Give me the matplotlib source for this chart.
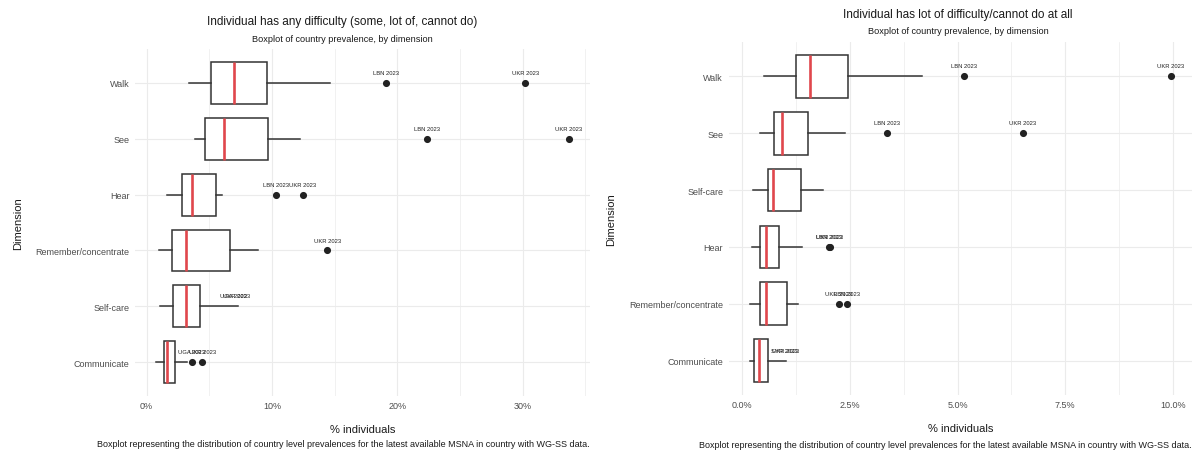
import numpy as np
import matplotlib
matplotlib.use("Agg")
import matplotlib.pyplot as plt
from matplotlib.ticker import FuncFormatter, MultipleLocator

plt.rcParams['font.family'] = ['Liberation Sans', 'DejaVu Sans']

CAPTION = ("Boxplot representing the distribution of country level prevalences "
           "for the latest available MSNA in country with WG-SS data.")
SUBTITLE = "Boxplot of country prevalence, by dimension"

# --- any difficulty (some, lot of, cannot do), top to bottom ---
any_dims = ["Walk", "See", "Hear", "Remember/concentrate", "Self-care", "Communicate"]
any_whislo = [3.4, 3.85, 1.65, 1.0, 1.05, 0.75]
any_q1 = [5.1, 4.65, 2.8, 2.05, 2.1, 1.4]
any_med = [6.95, 6.2, 3.65, 3.15, 3.15, 1.65]
any_q3 = [9.6, 9.7, 5.5, 6.65, 4.25, 2.3]
any_whishi = [14.6, 12.25, 6.0, 8.85, 7.3, 3.25]
any_labelled = [
    [("LBN 2023", 19.1), ("UKR 2023", 30.2)],
    [("LBN 2023", 22.4), ("UKR 2023", 33.7)],
    [("LBN 2023", 10.3), ("UKR 2023", 12.45)],
    [("UKR 2023", 14.4)],
    [("UGA 2023", 6.95), ("UKR 2023", 7.2)],
    [("UGA 2023", 3.6), ("UKR 2023", 4.45)],
]

# --- lot of difficulty / cannot do at all, top to bottom ---
lot_dims = ["Walk", "See", "Self-care", "Hear", "Remember/concentrate", "Communicate"]
lot_whislo = [0.52, 0.41, 0.25, 0.24, 0.19, 0.18]
lot_q1 = [1.26, 0.74, 0.60, 0.42, 0.42, 0.28]
lot_med = [1.57, 0.94, 0.73, 0.56, 0.55, 0.40]
lot_q3 = [2.45, 1.54, 1.36, 0.86, 1.04, 0.60]
lot_whishi = [4.17, 2.39, 1.88, 1.40, 1.29, 1.02]
lot_labelled = [
    [("LBN 2023", 5.16), ("UKR 2023", 9.95)],
    [("LBN 2023", 3.37), ("UKR 2023", 6.51)],
    [],
    [("LBN 2023", 2.02), ("UKR 2023", 2.04)],
    [("UKR 2023", 2.24), ("LBN 2023", 2.43)],
    [("SYR 2023", 0.99), ("UKR 2023", 1.02)],
]

RED = "#E0474C"
EDGE = "#333333"
GRID = "#EBEBEB"
TXT = "#4D4D4D"


def draw_panel(ax, dims, whislo, q1, med, q3, whishi, labelled, xlim, major, minor, fmt):
    n = len(dims)
    pos = np.arange(n, 0, -1)
    stats = []
    for i in range(n):
        fl = [v for _, v in labelled[i] if v > whishi[i]]
        stats.append(dict(whislo=whislo[i], q1=q1[i], med=med[i], q3=q3[i],
                          whishi=whishi[i], fliers=fl))
    ax.bxp(stats, positions=pos, widths=0.75, orientation='horizontal',
           showcaps=False, patch_artist=True,
           boxprops=dict(facecolor="white", edgecolor=EDGE, linewidth=1.1),
           whiskerprops=dict(color=EDGE, linewidth=1.1),
           medianprops=dict(color=RED, linewidth=1.9),
           flierprops=dict(marker="o", markerfacecolor="#222222",
                           markeredgecolor="#222222", markersize=4.1))
    # country labels sit just above their points, overlapping where values are close
    for i in range(n):
        for lab, v in labelled[i]:
            ax.annotate(lab, (v, pos[i]), xytext=(0, 7.5), textcoords="offset points",
                        ha="center", va="center", fontsize=4.2, color="#222222")

    ax.set_xlim(*xlim)
    ax.set_ylim(0.4, n + 0.6)
    ax.set_yticks(pos)
    ax.set_yticklabels(dims)
    ax.xaxis.set_major_locator(MultipleLocator(major))
    ax.xaxis.set_minor_locator(MultipleLocator(minor))
    ax.xaxis.set_major_formatter(FuncFormatter(fmt))
    ax.grid(True, which="major", color=GRID, linewidth=0.8, zorder=0)
    ax.grid(True, which="minor", axis="x", color=GRID, linewidth=0.5, zorder=0)
    ax.set_axisbelow(True)
    for s in ax.spines.values():
        s.set_visible(False)
    ax.tick_params(which="both", length=0, labelsize=6.5, labelcolor=TXT, pad=4)
    ax.set_xlabel("% individuals", fontsize=8, color="#1a1a1a", labelpad=10)
    ax.set_ylabel("Dimension", fontsize=8, color="#1a1a1a", labelpad=9)


fig = plt.figure(figsize=(11.96, 4.52), dpi=100)
ax1 = fig.add_axes([0.1129, 0.1221, 0.3804, 0.7668])
ax2 = fig.add_axes([0.6092, 0.1243, 0.3875, 0.7801])

draw_panel(ax1, any_dims, any_whislo, any_q1, any_med, any_q3, any_whishi, any_labelled,
           (-0.93, 35.38), 10, 5, lambda v, p: "%d%%" % round(v))
draw_panel(ax2, lot_dims, lot_whislo, lot_q1, lot_med, lot_q3, lot_whishi, lot_labelled,
           (-0.31, 10.44), 2.5, 1.25, lambda v, p: "%.1f%%" % v)

# titles and captions
fig.text(342 / 1196, 1 - 22 / 452, "Individual has any difficulty (some, lot of, cannot do)",
         ha="center", va="center", fontsize=8.5, color="#1a1a1a")
fig.text(342 / 1196, 1 - 39.5 / 452, SUBTITLE, ha="center", va="center", fontsize=6.6,
         color="#1a1a1a")
fig.text(958 / 1196, 1 - 15 / 452, "Individual has lot of difficulty/cannot do at all",
         ha="center", va="center", fontsize=8.5, color="#1a1a1a")
fig.text(958 / 1196, 1 - 32 / 452, SUBTITLE, ha="center", va="center", fontsize=6.6,
         color="#1a1a1a")
fig.text(590 / 1196, 1 - 444.5 / 452, CAPTION, ha="right", va="center", fontsize=6.5,
         color="#1a1a1a")
fig.text(1192 / 1196, 1 - 445.5 / 452, CAPTION, ha="right", va="center", fontsize=6.5,
         color="#1a1a1a")

fig.savefig("out.png", dpi=100, facecolor="white")
